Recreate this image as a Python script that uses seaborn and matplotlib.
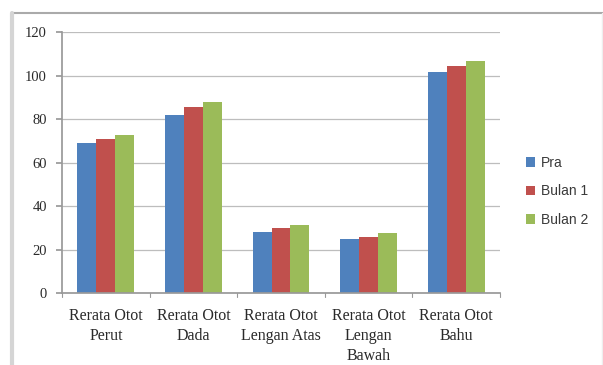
import matplotlib
matplotlib.use("Agg")
import matplotlib.pyplot as plt
import pandas as pd
import seaborn as sns

categories = [
    "Rerata Otot\nPerut",
    "Rerata Otot\nDada",
    "Rerata Otot\nLengan Atas",
    "Rerata Otot\nLengan\nBawah",
    "Rerata Otot\nBahu",
]
series_names = ["Pra", "Bulan 1", "Bulan 2"]
pra = [69, 82, 28, 25, 101.5]
bulan1 = [71, 85.5, 30, 26, 104.5]
bulan2 = [72.5, 88, 31.5, 27.5, 106.5]
colors = ["#4F81BD", "#C0504D", "#9BBB59"]
y_ticks = [0, 20, 40, 60, 80, 100, 120]

rows = []
for name, vals in zip(series_names, [pra, bulan1, bulan2]):
    for cat, v in zip(categories, vals):
        rows.append({"Kategori": cat, "Seri": name, "Nilai": v})
df = pd.DataFrame(rows)

sns.set_theme(style="white")
plt.rcParams["font.family"] = ["Liberation Serif", "DejaVu Serif"]

fig = plt.figure(figsize=(6.03, 3.65), dpi=100)
ax = fig.add_axes([0.103, 0.197, 0.726, 0.715])

sns.barplot(data=df, x="Kategori", y="Nilai", hue="Seri", palette=colors,
            width=0.65, saturation=1, ax=ax, legend=True, edgecolor="none")

ax.set_ylim(0, 120)
ax.set_xlim(-0.5, len(categories) - 0.5)
ax.set_yticks(y_ticks)
ax.set_yticklabels([str(t) for t in y_ticks], fontsize=10.5, color="#2a2a2a")
ax.set_xlabel("")
ax.set_ylabel("")
ax.set_xticks(range(len(categories)))
ax.set_xticklabels(categories, fontsize=11.5, color="#2a2a2a", linespacing=1.3)
ax.tick_params(axis="x", length=0, pad=11)
ax.tick_params(axis="y", length=4, color="#999999", direction="out", left=True, pad=7)

# category separator ticks below the baseline
for b in [x + 0.5 for x in range(-1, len(categories))]:
    ax.plot([b, b], [0, -1.8], color="#999999", lw=0.8, clip_on=False)

ax.grid(axis="y", color="#bdbdbd", lw=0.9)
ax.set_axisbelow(True)
for s in ["top", "right"]:
    ax.spines[s].set_visible(False)
ax.spines["left"].set_color("#999999")
ax.spines["bottom"].set_color("#999999")

handles, labels = ax.get_legend_handles_labels()
ax.legend(handles, labels, loc="center left", bbox_to_anchor=(1.03, 0.39),
          frameon=False, handlelength=0.7, handleheight=0.7, handletextpad=0.4,
          labelspacing=1.05, labelcolor="#3a3a3a",
          prop={"family": "Liberation Sans", "size": 10})

# outer chart frame
fig.add_artist(plt.Line2D([0.02, 1.0], [0.964, 0.964], color="#aaaaaa", lw=1.5,
                          transform=fig.transFigure))
fig.add_artist(plt.Line2D([0.02, 0.02], [0.0, 0.964], color="#d5d5d5", lw=3,
                          transform=fig.transFigure))
fig.add_artist(plt.Line2D([0.998, 0.998], [0.0, 0.964], color="#eeeeee", lw=1,
                          transform=fig.transFigure))

fig.savefig("out.png", dpi=100)
